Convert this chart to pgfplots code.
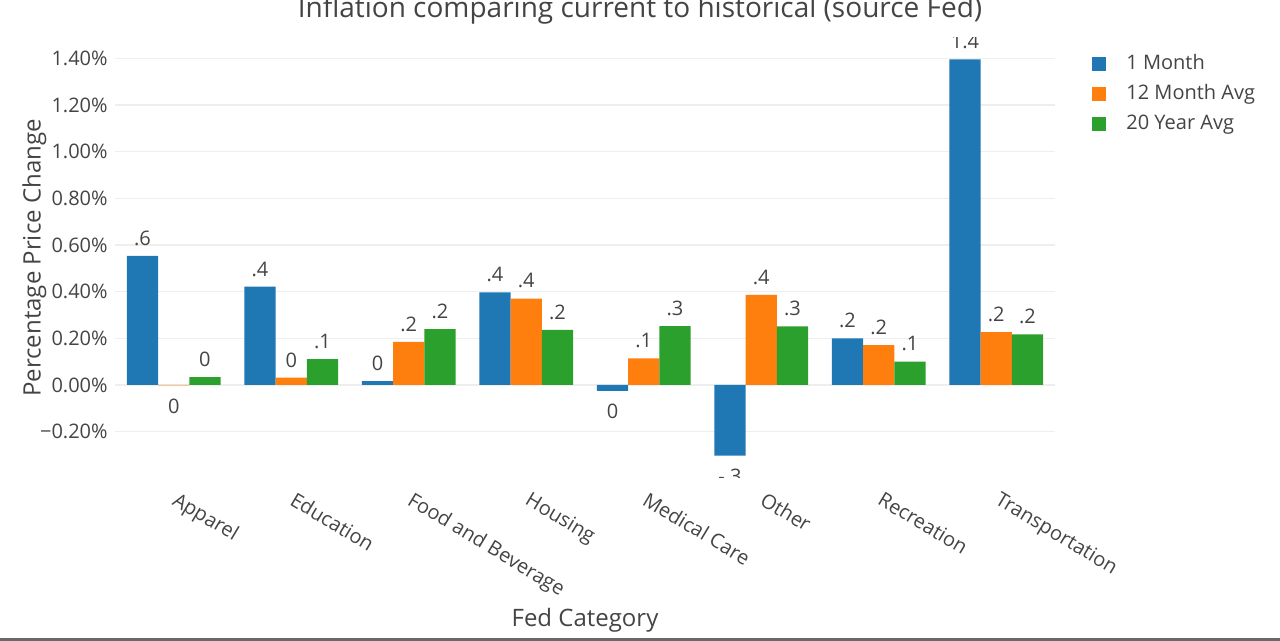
\documentclass[border=0pt]{standalone}
\usepackage{fontspec}
\setmainfont{Open Sans}
\usepackage{pgfplots}
\usepackage{pgfplotstable}
\pgfplotsset{compat=1.18}
\definecolor{pblue}{HTML}{1F77B4}
\definecolor{porange}{HTML}{FF7F0E}
\definecolor{pgreen}{HTML}{2CA02C}
\definecolor{ptext}{HTML}{444444}
\definecolor{pgrid}{HTML}{EEEEEE}
\pgfplotstableread{
x  v1      t1   v2      t2   v3     t3
0  0.553   .6   -0.002  0    0.033  0
1  0.421   .4   0.031   0    0.111  .1
2  0.016   0    0.184   .2   0.239  .2
3  0.397   .4   0.370   .4   0.236  .2
4  -0.026  0    0.114   .1   0.252  .3
5  -0.303  -.3  0.386   .4   0.251  .3
6  0.200   .2   0.171   .2   0.100  .1
7  1.395   1.4  0.226   .2   0.217  .2
}\datatable
\begin{document}
\begin{tikzpicture}[font=\fontsize{10pt}{12pt}\selectfont, text=ptext]
\path[use as bounding box] (-57.5pt,-81.5pt) rectangle (582.5pt,239pt);
\fill[ptext!80] (-57.5pt,-81.5pt) rectangle (582.5pt,-80.2pt);
\begin{axis}[
  at={(0pt,0pt)}, anchor=south west,
  scale only axis, width=470pt, height=220pt,
  ybar=0pt, bar width=15.6pt,
  xmin=-0.5, xmax=7.5, ymin=-0.399, ymax=1.487,
  enlarge x limits=false,
  xtick={0,...,7},
  xticklabels={Apparel,Education,Food and Beverage,Housing,Medical Care,Other,Recreation,Transportation},
  xticklabel style={rotate=-31, anchor=north west, inner sep=0pt, yshift=-4pt, xshift=5.5pt, text=ptext},
  ytick={-0.2,0,0.2,0.4,0.6,0.8,1.0,1.2,1.4},
  yticklabels={−0.20\%,0.00\%,0.20\%,0.40\%,0.60\%,0.80\%,1.00\%,1.20\%,1.40\%},
  yticklabel style={text=ptext, inner sep=0pt, xshift=-3.5pt},
  axis line style={draw=none},
  major tick length=0pt,
  ymajorgrids, major grid style={pgrid, line width=0.6pt},
  extra y ticks={0}, extra y tick labels={},
  extra y tick style={grid style={ptext!75, line width=0.7pt}},
  ylabel={Percentage Price Change},
  ylabel style={at={(axis description cs:-0.079,0.5)}, anchor=base, font=\fontsize{12pt}{14pt}\selectfont, text=ptext},
  xlabel={Fed Category},
  xlabel style={at={(axis description cs:0.5,-0.3386)}, anchor=base, font=\fontsize{12pt}{14pt}\selectfont, text=ptext},
  nodes near coords, point meta=explicit symbolic,
  visualization depends on={rawy \as \rawy},
  every node near coord/.append style={font=\fontsize{10pt}{12pt}\selectfont, text=ptext,
    /utils/exec={\ifdim\rawy pt<0pt \pgfkeysalso{anchor=north, inner sep=6.5pt}\else\pgfkeysalso{anchor=south, inner sep=5pt}\fi}},
  clip marker paths=true,
  legend style={at={(axis description cs:1.0394,0.968)}, anchor=north west, draw=none, fill=none,
    inner sep=0pt, row sep=4pt, text=ptext,
    nodes={inner sep=1pt, anchor=west},
    /tikz/every odd column/.append style={column sep=9pt}},
  legend cell align=left,
  legend image code/.code={\fill[#1] (0pt,-3.5pt) rectangle (7pt,3.5pt);},
]
\addplot[fill=pblue, draw=none] table[x=x, y=v1, meta=t1] {\datatable};
\addplot[fill=porange, draw=none] table[x=x, y=v2, meta=t2] {\datatable};
\addplot[fill=pgreen, draw=none] table[x=x, y=v3, meta=t3] {\datatable};
\legend{1 Month, 12 Month Avg, 20 Year Avg}
\end{axis}
\node[anchor=base, font=\fontsize{14pt}{16pt}\selectfont, text=ptext] at (262.5pt,230pt) {Inflation comparing current to historical (source Fed)};
\end{tikzpicture}
\end{document}
